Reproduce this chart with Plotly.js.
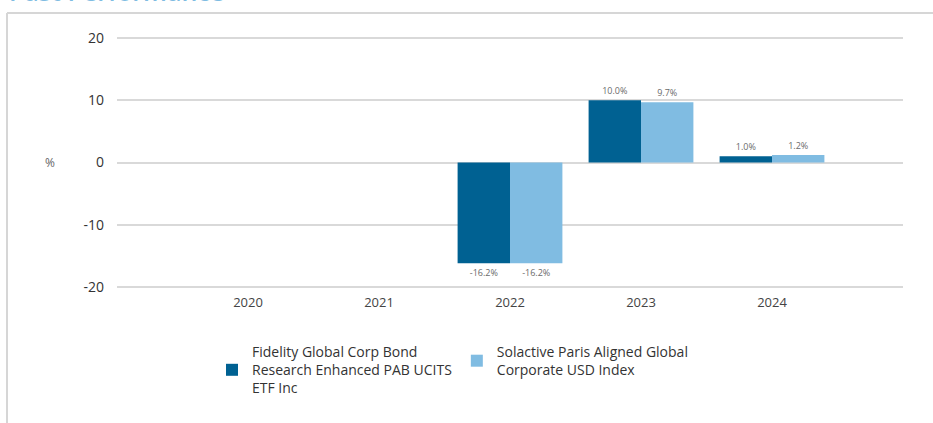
<!DOCTYPE html>
<html>
<head>
<meta charset="utf-8">
<script src="https://cdn.plot.ly/plotly-3.0.1.min.js"></script>
<style>html,body{margin:0;padding:0;background:#fff;}#chart{width:933px;height:423px;}</style>
</head>
<body>
<div id="chart"></div>
<script>
const years = ["2020", "2021", "2022", "2023", "2024"];
const fundName = "Fidelity Global Corp Bond<br>Research Enhanced PAB UCITS<br>ETF Inc";
const indexName = "Solactive Paris Aligned Global<br>Corporate USD Index";
const fundValues = [null, null, -16.2, 10.0, 1.0];
const indexValues = [null, null, -16.2, 9.7, 1.2];
const yTicks = [-20, -10, 0, 10, 20];
const chartTitle = "Past Performance";

function labels(vals) {
  return vals.map(v => v === null ? "" : v.toFixed(1) + "%");
}

const W = 933, H = 423;
const L = 117, R = 30, T = 37, B = 135;
const pw = W - L - R, ph = H - T - B;
const px = x => (x - L) / pw;
const py = y => (H - B - y) / ph;

const common = {
  type: "bar",
  x: years,
  textposition: "outside",
  textfont: {family: "Open Sans, sans-serif", size: 9, color: "#6b6b6b"},
  constraintext: "none",
  cliponaxis: false,
  hoverinfo: "skip"
};

const traces = [
  Object.assign({}, common, {
    name: fundName, y: fundValues, text: labels(fundValues),
    marker: {color: "#006192"}
  }),
  Object.assign({}, common, {
    name: indexName, y: indexValues, text: labels(indexValues),
    marker: {color: "#80bce2"}
  })
];

const layout = {
  width: W, height: H,
  margin: {l: L, r: R, t: T, b: B, pad: 0},
  paper_bgcolor: "#fff", plot_bgcolor: "#fff",
  barmode: "group", bargap: 0.2, bargroupgap: 0,
  showlegend: true,
  font: {family: "Open Sans, sans-serif", color: "#333"},
  xaxis: {
    type: "category", range: [-1, 5],
    showgrid: false, zeroline: false, showline: false, ticks: "",
    tickfont: {size: 13, color: "#444"}, ticklabelstandoff: 5
  },
  yaxis: {
    range: [-20.2, 20.2], tickvals: yTicks, ticktext: yTicks.map(String),
    showgrid: true, gridcolor: "#d9d9d9", gridwidth: 2,
    zeroline: false, showline: false, ticks: "",
    tickfont: {size: 14, color: "#333"}, ticklabelstandoff: 12
  },
  legend: {
    orientation: "h", x: px(212), xanchor: "left", y: py(336), yanchor: "top",
    font: {size: 14, color: "#333"}, valign: "middle", itemwidth: 30,
    traceorder: "normal"
  },
  annotations: [
    {text: "%", xref: "paper", yref: "paper", x: px(50), y: py(162),
     xanchor: "center", yanchor: "middle", showarrow: false,
     font: {size: 12, color: "#666"}},
    {text: chartTitle, xref: "paper", yref: "paper", x: px(7), y: py(10.3),
     xanchor: "left", yanchor: "bottom", showarrow: false,
     font: {size: 25, color: "#80bce2", family: "Open Sans, sans-serif", weight: 600}}
  ],
  shapes: [
    {type: "line", xref: "paper", yref: "paper", x0: px(7), x1: px(940), y0: py(13), y1: py(13),
     line: {color: "#d6d6d6", width: 2}},
    {type: "line", xref: "paper", yref: "paper", x0: px(7), x1: px(7), y0: py(13), y1: py(430),
     line: {color: "#d6d6d6", width: 2}}
  ]
};

Plotly.newPlot("chart", traces, layout, {displayModeBar: false, staticPlot: true});
</script>
</body>
</html>
